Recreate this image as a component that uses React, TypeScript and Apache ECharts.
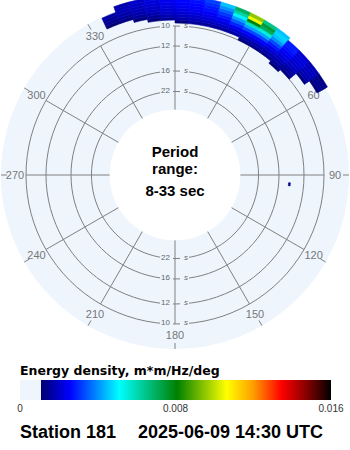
import React, { useEffect, useRef } from "react";
import * as echarts from "echarts";

// ---------- texts ----------
const STATION = "Station 181";
const TIMESTAMP = "2025-06-09 14:30 UTC";
const CBAR_TITLE = "Energy density, m*m/Hz/deg";
const CENTER_LINES = ["Period", "range:", "8-33 sec"];

// ---------- axes ----------
const PERIOD_MIN = 8; // s  (outer edge)
const PERIOD_MAX = 33; // s (inner edge)
const PERIOD_TICKS = [10, 12, 16, 22];
const PERIOD_LABEL_DIRS = [0, 180];
const ANGLE_TICKS = [0, 30, 60, 90, 120, 150, 180, 210, 240, 270, 300, 330];

// ---------- directional spectrum (m*m/Hz/deg) ----------
const DIR_BINS = [330, 335, 340, 345, 350, 355, 0, 5, 10, 15, 20, 25, 30, 35, 40, 45, 50, 55];
const DIR_STEP = 5;
const FREQ_BINS = [0.095, 0.0975, 0.1, 0.1025, 0.105, 0.1075, 0.11, 0.1125, 0.115, 0.1175, 0.12, 0.1225];
const FREQ_STEP = 0.0025;
const ENERGY = [
  [0, 0, 0, 0, 0, 0, 0, 0, 0, 0, 0, 0, 0, 0, 0, 0, 0, 0],
  [0, 0, 0, 0, 0, 0, 0, 0, 0, 0, 0, 0, 0, 0, 0.0012, 0, 0, 0],
  [0, 0, 0, 0, 0, 0, 0, 0, 0, 0, 0, 0.0013, 0.0014, 0.0014, 0.0015, 0.0013, 0, 0],
  [0, 0, 0, 0, 0, 0, 0.0012, 0.0015, 0.0015, 0.0015, 0.0016, 0.0017, 0.0017, 0.0017, 0.0017, 0.0015, 0, 0],
  [0, 0, 0, 0, 0.0012, 0.0015, 0.0017, 0.0018, 0.0018, 0.0019, 0.002, 0.0021, 0.0021, 0.002, 0.0019, 0.0017, 0, 0],
  [0, 0, 0, 0.0012, 0.0015, 0.0018, 0.0019, 0.002, 0.0021, 0.0022, 0.0024, 0.0026, 0.0026, 0.0023, 0.0021, 0.0019, 0.0013, 0],
  [0, 0.0011, 0.0013, 0.0015, 0.0017, 0.002, 0.0021, 0.0022, 0.0023, 0.0025, 0.0029, 0.0033, 0.0033, 0.0028, 0.0023, 0.002, 0.0017, 0],
  [0, 0.0014, 0.0015, 0.0017, 0.0019, 0.0021, 0.0023, 0.0024, 0.0025, 0.0028, 0.0035, 0.0042, 0.0042, 0.0033, 0.0025, 0.0021, 0.0018, 0.0012],
  [0, 0.0015, 0.0017, 0.0018, 0.002, 0.0022, 0.0024, 0.0025, 0.0027, 0.0031, 0.0042, 0.0058, 0.0055, 0.004, 0.0027, 0.0022, 0.0019, 0.0014],
  [0, 0.0016, 0.0018, 0.0019, 0.0021, 0.0023, 0.0025, 0.0026, 0.0028, 0.0035, 0.005, 0.008, 0.007, 0.0045, 0.0028, 0.0022, 0.0019, 0.0014],
  [0, 0, 0.0018, 0.002, 0.0022, 0.0024, 0.0026, 0.0027, 0.003, 0.004, 0.0062, 0.0105, 0.0075, 0.0047, 0.0028, 0.0021, 0.0018, 0.0013],
  [0, 0, 0.0017, 0.002, 0.0022, 0.0025, 0.0027, 0.0028, 0.0032, 0.0045, 0.007, 0.0095, 0.0065, 0.0045, 0, 0, 0, 0],
];
// isolated small cell: [fLow, dirStart, fHigh, dirEnd, energy]
const SPOT_CELLS = [[0.0707, 93.9, 0.0722, 95.4, 0.0013]];

// ---------- colour scale ----------
const COLOR_MIN = 0.00108;
const COLOR_MAX = 0.016;
const CBAR_TICKS = [0, 0.008, 0.016];
const CBAR_TICK_LABELS = ["0", "0.008", "0.016"];
const COLOR_STOPS: [number, string][] = [
  [0, "#000070"],
  [0.1, "#0000ff"],
  [0.27, "#00ffff"],
  [0.47, "#008000"],
  [0.64, "#ffff00"],
  [0.73, "#ffa000"],
  [0.83, "#ff0000"],
  [0.92, "#800000"],
  [1, "#000000"],
];

// ---------- layout / style ----------
const FONT = "'Liberation Sans', Arial, sans-serif";
const TITLE_FONT = "'DejaVu Sans', sans-serif";
const CX = 175;
const CY = 175;
const DISC_R = 174;
const HOLE_R = 65.36;
const OUTER_R = 179;
const LABEL_R = 160;
const TICK_R0 = 168;
const TICK_R1 = 174;
const DISC_COLOR = "#eef5fd";
const GRID_COLOR = "#808080";
const LABEL_COLOR = "#777777";
const BAR_X0 = 20;
const BAR_W = 311;
const BAR_Y = 380;
const BAR_H = 20;

function hexToRgb(h: string) {
  const n = parseInt(h.slice(1), 16);
  return [(n >> 16) & 255, (n >> 8) & 255, n & 255];
}
function sampleColors(n: number) {
  const out: string[] = [];
  for (let i = 0; i < n; i++) {
    const t = i / (n - 1);
    let k = 0;
    while (k < COLOR_STOPS.length - 2 && t > COLOR_STOPS[k + 1][0]) k++;
    const [t0, c0] = COLOR_STOPS[k];
    const [t1, c1] = COLOR_STOPS[k + 1];
    const u = Math.min(1, Math.max(0, (t - t0) / (t1 - t0)));
    const a = hexToRgb(c0);
    const b = hexToRgb(c1);
    const c = a.map((v, j) => Math.round(v + (b[j] - v) * u));
    out.push(`rgb(${c[0]},${c[1]},${c[2]})`);
  }
  return out;
}

export default function App() {
  const ref = useRef<HTMLDivElement>(null);
  useEffect(() => {
    const chart = echarts.init(ref.current!, null, { renderer: "svg" });

    const heatData: number[][] = [];
    FREQ_BINS.forEach((f, i) =>
      DIR_BINS.forEach((d, j) => {
        const v = ENERGY[i][j];
        if (v > 0) heatData.push([f, d, f + FREQ_STEP, d + DIR_STEP, v]);
      })
    );
    SPOT_CELLS.forEach((c) => heatData.push(c));

    const fMin = 1 / PERIOD_MAX;
    const fMax = 1 / PERIOD_MIN;

    const polarGeom = (params: any, api: any, f: number, a: number) => {
      const cs = params.coordSys;
      const p = api.coord([f, a]);
      const dx = p[0] - cs.cx;
      const dy = p[1] - cs.cy;
      const r = Math.hypot(dx, dy);
      const ang = Math.atan2(dy, dx);
      return { cx: cs.cx, cy: cs.cy, r, ang, ux: Math.cos(ang), uy: Math.sin(ang), p };
    };

    const gridCircles = {
      type: "custom",
      coordinateSystem: "polar",
      z: 3,
      silent: true,
      data: PERIOD_TICKS.map((T) => [1 / T, 0]),
      renderItem: (params: any, api: any) => {
        const g = polarGeom(params, api, api.value(0), api.value(1));
        return {
          type: "circle",
          shape: { cx: g.cx, cy: g.cy, r: g.r },
          style: { fill: "none", stroke: GRID_COLOR, lineWidth: 1 },
        };
      },
    };

    const periodLabelData: number[][] = [];
    PERIOD_LABEL_DIRS.forEach((a) => PERIOD_TICKS.forEach((T) => periodLabelData.push([1 / T, a, T])));
    const periodLabels = {
      type: "custom",
      coordinateSystem: "polar",
      z: 3.5,
      silent: true,
      data: periodLabelData,
      renderItem: (params: any, api: any) => {
        const g = polarGeom(params, api, api.value(0), api.value(1));
        const base = {
          fontSize: 8,
          fontFamily: FONT,
          fill: "#666666",
          verticalAlign: "middle",
          backgroundColor: DISC_COLOR,
        };
        return {
          type: "group",
          children: [
            {
              type: "text",
              x: g.p[0] - 2,
              y: g.p[1] - 1,
              style: { ...base, text: String(api.value(2)), align: "right", padding: [1, 3, 1, 1] },
            },
            {
              type: "text",
              x: g.p[0] + 5,
              y: g.p[1] - 1,
              style: { ...base, text: "s", align: "left", fontStyle: "italic", padding: [1, 1, 1, 4] },
            },
          ],
        };
      },
    };

    const spokes = {
      type: "custom",
      coordinateSystem: "polar",
      z: 4,
      silent: true,
      data: ANGLE_TICKS.map((a) => [fMin, a, 1 / PERIOD_TICKS[0], a]),
      renderItem: (params: any, api: any) => {
        const g0 = polarGeom(params, api, api.value(0), api.value(1));
        const g1 = polarGeom(params, api, api.value(2), api.value(3));
        return {
          type: "group",
          children: [
            {
              type: "line",
              shape: { x1: g0.p[0], y1: g0.p[1], x2: g1.p[0], y2: g1.p[1] },
              style: { stroke: GRID_COLOR, lineWidth: 1 },
            },
            {
              type: "line",
              shape: {
                x1: g1.cx + g1.ux * TICK_R0,
                y1: g1.cy + g1.uy * TICK_R0,
                x2: g1.cx + g1.ux * TICK_R1,
                y2: g1.cy + g1.uy * TICK_R1,
              },
              style: { stroke: GRID_COLOR, lineWidth: 1 },
            },
            {
              type: "text",
              x: g1.cx + g1.ux * LABEL_R,
              y: g1.cy + g1.uy * LABEL_R,
              style: {
                text: String(api.value(1)),
                fontSize: 11,
                fontFamily: FONT,
                fill: LABEL_COLOR,
                align: "center",
                verticalAlign: "middle",
              },
            },
          ],
        };
      },
    };

    const heat = {
      type: "custom",
      coordinateSystem: "polar",
      z: 5,
      silent: true,
      data: heatData,
      renderItem: (params: any, api: any) => {
        const cs = params.coordSys;
        const g0 = polarGeom(params, api, api.value(0), api.value(1));
        const g1 = polarGeom(params, api, api.value(2), api.value(3));
        let a0 = g0.ang;
        let a1 = g1.ang;
        if (a1 <= a0) a1 += 2 * Math.PI;
        const color = api.visual("color");
        return {
          type: "sector",
          shape: {
            cx: cs.cx,
            cy: cs.cy,
            r0: Math.max(g0.r, cs.r0),
            r: Math.min(g1.r, cs.r),
            startAngle: a0,
            endAngle: a1,
            clockwise: true,
          },
          style: { fill: color, stroke: color, lineWidth: 0.6 },
        };
      },
    };

    const cbarStops: { offset: number; color: string }[] = COLOR_STOPS.map(([t, c]) => ({ offset: t, color: c }));
    const gradX0 = BAR_X0 + (COLOR_MIN / COLOR_MAX) * BAR_W;

    const centerText = (text: string, y: number) => ({
      type: "text",
      z: 100,
      x: CX,
      y,
      style: { text, font: `bold 15px ${FONT}`, fill: "#000", align: "center", verticalAlign: "middle" },
    });

    const graphic: any[] = [
      {
        type: "ring",
        z: 0,
        silent: true,
        shape: { cx: CX, cy: CY, r: DISC_R, r0: HOLE_R },
        style: { fill: DISC_COLOR },
      },
      centerText(CENTER_LINES[0], 151.5),
      centerText(CENTER_LINES[1], 168.5),
      centerText(CENTER_LINES[2], 190),
      {
        type: "text",
        z: 100,
        x: BAR_X0,
        y: 370,
        style: { text: CBAR_TITLE, font: `bold 12.5px ${TITLE_FONT}`, fill: "#000", align: "left", verticalAlign: "middle" },
      },
      {
        type: "rect",
        z: 100,
        shape: { x: BAR_X0, y: BAR_Y, width: gradX0 - BAR_X0, height: BAR_H },
        style: { fill: DISC_COLOR },
      },
      {
        type: "rect",
        z: 100,
        shape: { x: gradX0, y: BAR_Y, width: BAR_X0 + BAR_W - gradX0, height: BAR_H },
        style: {
          fill: { type: "linear", x: 0, y: 0, x2: 1, y2: 0, colorStops: cbarStops },
        },
      },
      ...CBAR_TICKS.map((v, i) => ({
        type: "text",
        z: 100,
        x: BAR_X0 + (v / COLOR_MAX) * BAR_W,
        y: 408.5,
        style: { text: CBAR_TICK_LABELS[i], font: `10px ${FONT}`, fill: "#333", align: "center", verticalAlign: "middle" },
      })),
      {
        type: "text",
        z: 100,
        x: BAR_X0,
        y: 432,
        style: { text: STATION, font: `bold 18px ${FONT}`, fill: "#000", align: "left", verticalAlign: "middle" },
      },
      {
        type: "text",
        z: 100,
        x: 138,
        y: 432,
        style: { text: TIMESTAMP, font: `bold 18px ${FONT}`, fill: "#000", align: "left", verticalAlign: "middle" },
      },
    ];

    const option: any = {
      animation: false,
      backgroundColor: "#ffffff",
      textStyle: { fontFamily: FONT },
      polar: { center: [CX, CY], radius: [HOLE_R, OUTER_R] },
      angleAxis: {
        type: "value",
        min: 0,
        max: 360,
        startAngle: 90,
        clockwise: true,
        show: false,
      },
      radiusAxis: { type: "value", min: fMin, max: fMax, show: false },
      visualMap: {
        type: "continuous",
        show: false,
        min: COLOR_MIN,
        max: COLOR_MAX,
        dimension: 4,
        seriesIndex: 3,
        inRange: { color: sampleColors(101) },
      },
      graphic,
      series: [gridCircles, periodLabels, spokes, heat],
    };
    chart.setOption(option);
    return () => chart.dispose();
  }, []);
  return (
    <div
      ref={ref}
      style={{ position: "fixed", left: 0, top: 0, width: 350, height: 450, background: "#fff" }}
    />
  );
}
